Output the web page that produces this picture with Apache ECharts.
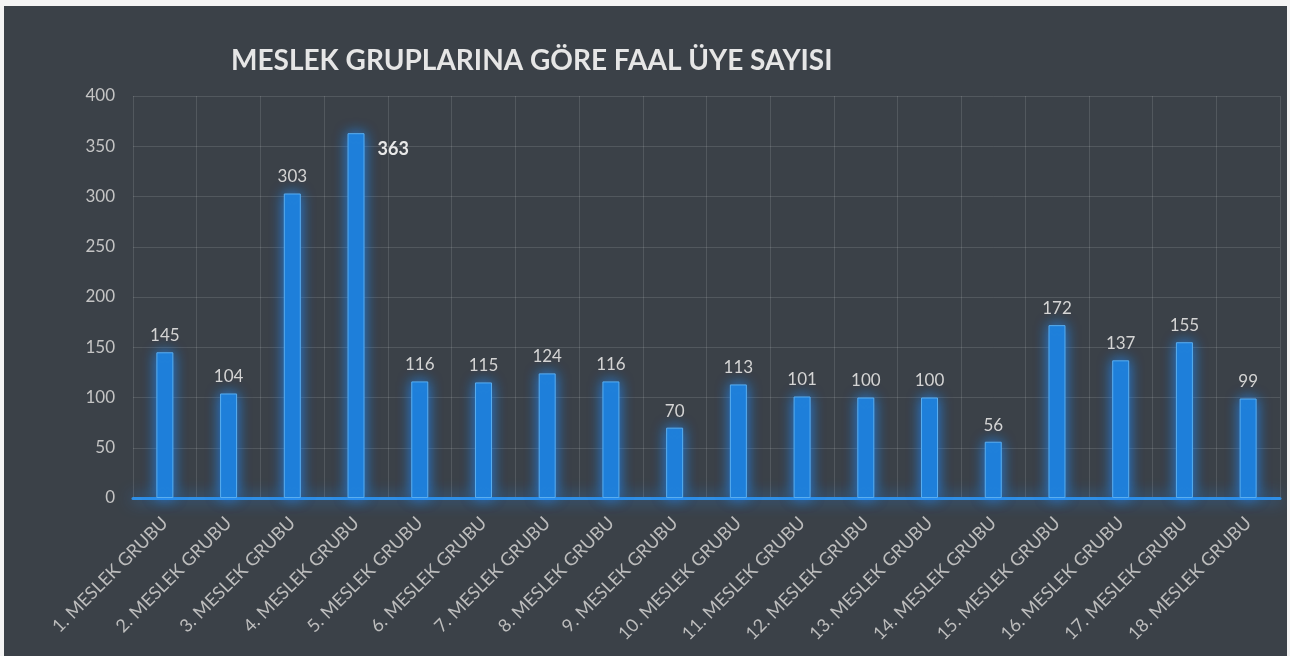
<!DOCTYPE html>
<html>
<head>
<meta charset="utf-8">
<script src="https://cdn.jsdelivr.net/npm/echarts@6/dist/echarts.min.js"></script>
<style>
  html, body { margin: 0; padding: 0; background: #f4f4f4; }
  #chart { position: absolute; left: 4px; top: 6px; width: 1283px; height: 650px; background: #3b4148; }
</style>
</head>
<body>
<div id="chart"></div>
<script>
// kategoriler ve değerler
const categories = [
  "1. MESLEK GRUBU", "2. MESLEK GRUBU", "3. MESLEK GRUBU", "4. MESLEK GRUBU",
  "5. MESLEK GRUBU", "6. MESLEK GRUBU", "7. MESLEK GRUBU", "8. MESLEK GRUBU",
  "9. MESLEK GRUBU", "10. MESLEK GRUBU", "11. MESLEK GRUBU", "12. MESLEK GRUBU",
  "13. MESLEK GRUBU", "14. MESLEK GRUBU", "15. MESLEK GRUBU", "16. MESLEK GRUBU",
  "17. MESLEK GRUBU", "18. MESLEK GRUBU"
];
const memberCounts = [145, 104, 303, 363, 116, 115, 124, 116, 70, 113, 101, 100, 100, 56, 172, 137, 155, 99];
const yTicks = [0, 50, 100, 150, 200, 250, 300, 350, 400];

const font = "Lato";
const echart = echarts.init(document.getElementById("chart"));

const barData = memberCounts.map((v) => {
  if (v === Math.max(...memberCounts)) {
    // en yüksek çubuğun etiketi sağ üstte
    return {
      value: v,
      label: {
        position: ["100%", 0],
        offset: [13, 16],
        align: "left",
        verticalAlign: "middle",
        fontSize: 18,
        fontWeight: "bold",
        color: "#e8e8e8"
      }
    };
  }
  return v;
});

const option = {
  title: {
    text: "MESLEK GRUPLARINA GÖRE FAAL ÜYE SAYISI",
    left: 222,
    top: 36,
    textStyle: { fontFamily: font, fontSize: 28, fontWeight: "bold", color: "#e6e6e6" }
  },
  grid: { left: 129, right: 7, top: 90, bottom: 158 },
  xAxis: {
    type: "category",
    data: categories,
    boundaryGap: true,
    axisLine: {
      show: true,
      lineStyle: { color: "#2f8fe6", width: 3, shadowColor: "rgba(40,150,255,0.9)", shadowBlur: 16 }
    },
    axisTick: { show: false },
    splitLine: { show: true, lineStyle: { color: "rgba(255,255,255,0.12)", width: 1 } },
    axisLabel: {
      interval: 0,
      rotate: 45,
      margin: 22,
      fontFamily: font,
      fontSize: 18,
      color: "#bdbdbd"
    }
  },
  yAxis: {
    type: "value",
    min: yTicks[0],
    max: yTicks[yTicks.length - 1],
    interval: 50,
    axisLine: { show: false },
    axisTick: { show: false },
    splitLine: { lineStyle: { color: "rgba(255,255,255,0.12)", width: 1 } },
    axisLabel: { margin: 18, fontFamily: font, fontSize: 17, color: "#c4c4c4" }
  },
  series: [
    {
      type: "bar",
      data: barData,
      barWidth: 17,
      itemStyle: {
        color: "#1f7fd8",
        borderColor: "#5aaef0",
        borderWidth: 1,
        shadowColor: "rgba(30,140,255,0.85)",
        shadowBlur: 14
      },
      label: {
        show: true,
        position: "top",
        distance: 8,
        fontFamily: font,
        fontSize: 17,
        color: "#d4d4d4"
      }
    }
  ]
};

echart.setOption(option);
</script>
</body>
</html>
